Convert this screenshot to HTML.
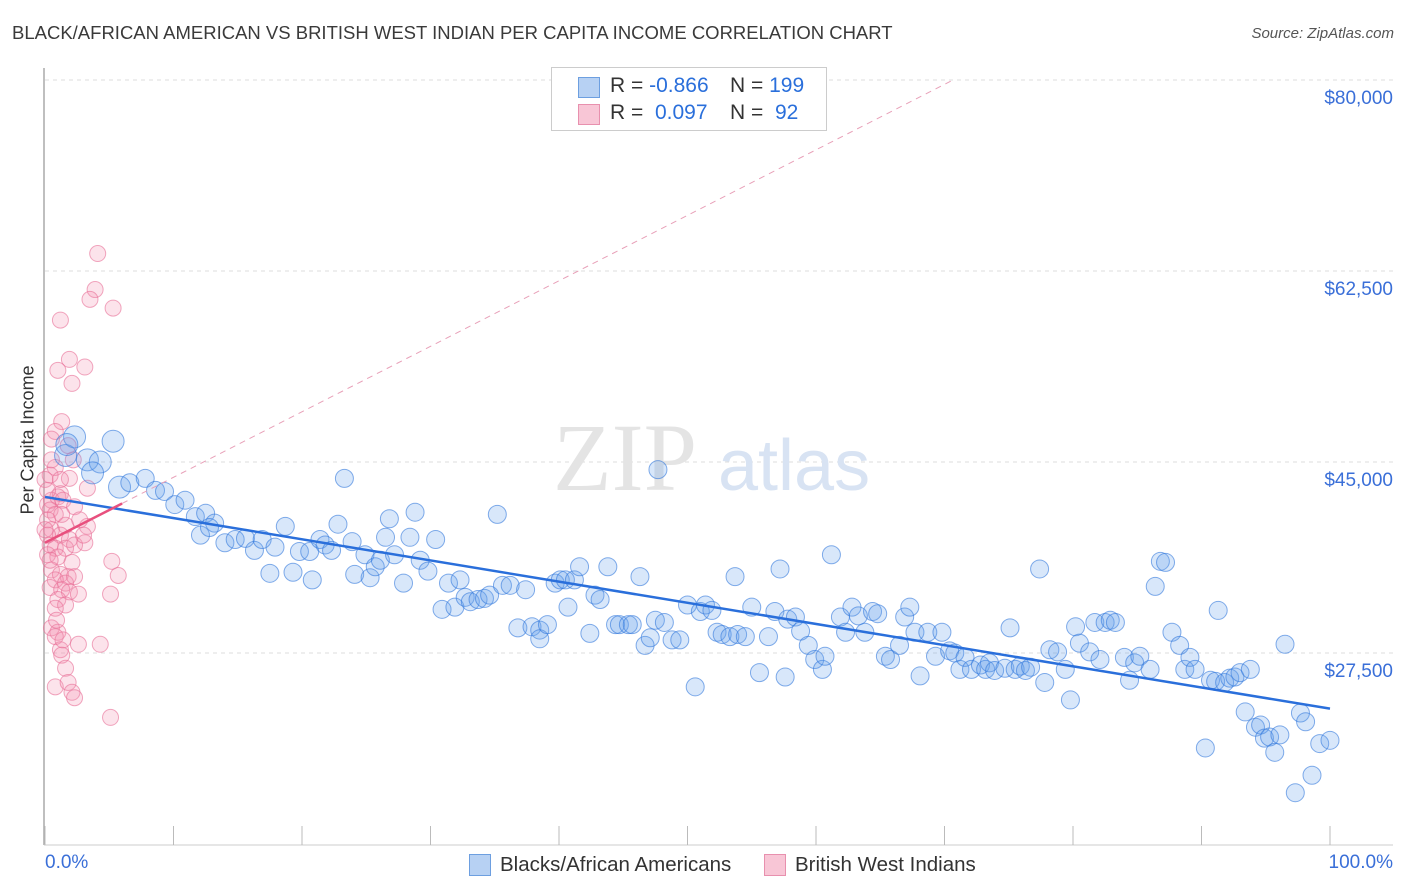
<!DOCTYPE html>
<html><head><meta charset="utf-8">
<style>
body{margin:0;background:#fff;font-family:"Liberation Sans",sans-serif;}
#wrap{position:relative;width:1406px;height:892px;overflow:hidden;}
.t{position:absolute;white-space:nowrap;}
</style></head>
<body>
<div id="wrap">
<div class="t" style="left:12px;top:22px;font-size:18.5px;color:#3a3a3a;">BLACK/AFRICAN AMERICAN VS BRITISH WEST INDIAN PER CAPITA INCOME CORRELATION CHART</div>
<div class="t" style="right:12px;top:25px;font-size:15px;color:#555;font-style:italic;">Source: ZipAtlas.com</div>
<svg id="svg" width="1406" height="892" style="position:absolute;left:0;top:0"></svg>
</div>
<script>
const yTicks=[80000,62500,45000,27500];
const yTickLabels=["$80,000","$62,500","$45,000","$27,500"];
const blueX=[1.6,2.3,3.3,4.3,5.3,1.7,3.7,5.8,6.6,7.8,8.6,9.3,10.1,10.9,11.7,12.5,13.2,12.1,12.8,14.0,14.8,15.6,16.3,16.9,17.5,17.9,18.7,19.3,19.8,20.6,20.8,21.4,21.8,22.3,22.8,23.3,23.9,24.1,24.9,25.3,25.7,26.1,26.5,26.8,27.2,27.9,28.4,28.8,29.2,29.8,30.4,30.9,31.4,31.9,32.3,32.7,33.1,33.7,34.2,34.6,35.2,35.6,36.2,36.8,37.4,37.9,38.5,38.5,39.1,39.7,40.1,40.5,40.7,41.2,41.6,42.4,42.8,43.2,43.8,44.4,44.7,45.4,45.7,46.3,46.7,47.1,47.5,47.7,48.2,48.8,49.4,50.0,50.6,51.0,51.4,51.9,52.3,52.7,53.3,53.7,53.9,54.5,55.0,55.6,56.3,56.8,57.2,57.6,57.8,58.4,58.8,59.4,59.9,60.5,60.7,61.2,61.9,62.3,62.8,63.3,63.8,64.4,64.8,65.4,65.8,66.5,66.9,67.3,67.7,68.1,68.7,69.3,69.8,70.4,70.8,71.2,71.6,72.1,72.8,73.2,73.5,73.9,74.7,75.1,75.5,75.9,76.3,76.7,77.4,77.8,78.2,78.8,79.4,79.8,80.2,80.5,81.3,81.7,82.1,82.5,82.9,83.3,84.0,84.4,84.8,85.2,86.0,86.4,86.8,87.2,87.7,88.3,88.7,89.1,89.5,90.3,90.7,91.1,91.3,91.8,92.2,92.6,93.0,93.4,93.8,94.2,94.6,94.9,95.3,95.7,96.1,96.5,97.3,97.7,98.1,98.6,99.2,100];
const blueY=[45.6,47.3,45.2,45.0,46.9,46.6,44.0,42.7,43.1,43.5,42.4,42.3,41.1,41.5,40.0,40.3,39.4,38.3,39.0,37.6,37.9,38.0,36.9,37.9,34.8,37.2,39.1,34.9,36.8,36.8,34.2,37.9,37.4,36.9,39.3,43.5,37.7,34.7,36.5,34.4,35.4,36.0,38.1,39.8,36.5,33.9,38.1,40.4,36.0,35.0,37.9,31.5,33.9,31.7,34.2,32.6,32.2,32.4,32.5,32.8,40.2,33.7,33.7,29.8,33.3,29.9,29.6,28.8,30.1,33.9,34.2,34.2,31.7,34.2,35.4,29.3,32.8,32.4,35.4,30.1,30.1,30.1,30.1,34.5,28.2,28.9,30.5,44.3,30.3,28.7,28.7,31.9,24.4,31.3,31.9,31.4,29.4,29.2,29.0,34.5,29.2,29.0,31.7,25.7,29.0,31.3,35.2,25.3,30.6,30.8,29.5,28.2,26.9,26.0,27.2,36.5,30.8,29.4,31.7,30.9,29.4,31.3,31.1,27.2,26.9,28.2,30.8,31.7,29.4,25.4,29.4,27.2,29.4,27.7,27.5,26.0,27.1,26.0,26.4,26.0,26.6,25.9,26.1,29.8,26.0,26.3,25.9,26.2,35.2,24.8,27.8,27.6,26.0,23.2,29.9,28.4,27.6,30.3,26.9,30.3,30.5,30.3,27.1,25.0,26.6,27.2,26.0,33.6,35.9,35.8,29.4,28.2,26.0,27.1,26.0,18.8,25.0,24.9,31.4,24.8,25.2,25.3,25.7,22.1,26.0,20.7,20.9,19.7,19.8,18.4,20.0,28.3,14.7,22.0,21.2,16.3,19.2,19.5];
const pinkX=[4.1,3.9,3.5,5.3,1.2,1.9,3.1,1.0,2.1,1.3,0.8,0.5,1.8,2.2,0.8,0.4,1.9,3.3,1.2,0.5,0.2,1.0,1.4,2.3,0.4,0.8,0.2,1.6,3.3,0.5,1.2,1.9,0.4,0.8,1.6,2.3,3.1,0.2,1.0,2.1,5.2,0.5,1.2,1.8,0.8,1.6,2.3,5.7,0.4,1.3,1.9,2.6,5.1,1.0,1.6,0.8,0.5,1.0,0.8,1.2,2.6,4.3,1.3,1.6,0.8,1.8,2.1,2.3,5.1,0,0.2,0.2,0.4,1.3,0,2.7,3.0,1.2,0.5,0.9,1.4];
const pinkY=[64.1,60.8,59.9,59.1,58.0,54.4,53.7,53.4,52.2,48.7,47.8,47.1,46.5,45.2,44.5,43.8,43.5,42.6,42.1,41.5,41.1,41.8,41.5,40.9,40.6,40.2,39.7,39.2,39.1,38.8,38.3,37.9,37.4,37.1,37.1,37.4,37.6,36.5,36.3,35.8,35.9,35.1,34.7,34.5,34.2,33.9,34.5,34.6,33.5,33.3,33.1,32.9,32.9,32.4,31.9,31.6,29.8,29.4,29.0,27.8,28.3,28.3,27.3,26.1,24.4,24.8,23.9,23.4,21.6,43.4,42.4,38.3,36.0,40.2,38.8,39.7,38.3,43.4,45.2,30.5,28.7];
const blueTrend=[41.8,22.4];
const pinkTrend=[37.6,0.6];

const NS="http://www.w3.org/2000/svg";
const svg=document.getElementById('svg');
const X0=45,X1=1330;
const xs=p=>X0+p/100*(X1-X0);
const ys=k=>80+(80-k)*191/17.5;
function el(tag,attrs,parent){const e=document.createElementNS(NS,tag);for(const k in attrs)e.setAttribute(k,attrs[k]);(parent||svg).appendChild(e);return e;}

yTicks.forEach((v,i)=>{
 const y=ys(v/1000);
 const g=el('line',{x1:45,x2:1393,y1:y,y2:y,stroke:'#ddd','stroke-dasharray':'4,4','stroke-width':1});
 
 
 const t=el('text',{x:1393,y:y+24,'text-anchor':'end','font-size':19,fill:'#3a6fd8','font-family':'Liberation Sans, sans-serif'});
 t.textContent=yTickLabels[i];
 
 
});
const ax=el('line',{x1:44,x2:44,y1:68,y2:845,stroke:'#aaa','stroke-width':1.5});


const bx=el('line',{x1:44,x2:1393,y1:845,y2:845,stroke:'#ccc','stroke-width':1});


for(let i=0;i<=10;i++){
 const tk=el('line',{x1:xs(i*10),x2:xs(i*10),y1:826,y2:845,stroke:'#bbb','stroke-width':1});
 
 
}
const wm=el('text',{x:553,y:490,'font-size':96,fill:'#e4e4e4','font-family':'Liberation Serif, serif'});
wm.textContent='ZIP';


const wm2=el('text',{x:718,y:490,'font-size':72,fill:'#d8e3f3','font-family':'Liberation Sans, sans-serif'});
wm2.textContent='atlas';



pinkX.forEach((x,i)=>{
 const c=el('circle',{cx:xs(x),cy:ys(pinkY[i]),r:8,fill:'rgba(244,143,177,0.25)',stroke:'rgba(232,110,150,0.6)','stroke-width':1});
 
 
});
blueX.forEach((x,i)=>{
 const c=el('circle',{cx:xs(x),cy:ys(blueY[i]),r:i<8?11:9,fill:'rgba(100,160,235,0.25)',stroke:'rgba(50,120,220,0.6)','stroke-width':1});
 
 
});
const bl=el('line',{x1:xs(0),y1:ys(blueTrend[0]),x2:xs(100),y2:ys(blueTrend[1]),stroke:'#2a6fdb','stroke-width':2.5});


const pEnd=(80-pinkTrend[0])/pinkTrend[1];
const pd=el('line',{x1:xs(6),y1:ys(pinkTrend[0]+6*pinkTrend[1]),x2:xs(pEnd),y2:ys(80),stroke:'#e8a0b8','stroke-width':1,'stroke-dasharray':'6,5'});


const pl=el('line',{x1:xs(0),y1:ys(pinkTrend[0]),x2:xs(6),y2:ys(pinkTrend[0]+6*pinkTrend[1]),stroke:'#e8507e','stroke-width':2.5});


</script>
<div class="t" style="left:-32px;top:444px;font-size:18px;color:#333;transform:rotate(-90deg);width:120px;text-align:center;">Per Capita Income</div>
<div class="t" style="left:45px;top:852px;font-size:19px;color:#3a6fd8;">0.0%</div>
<div class="t" style="right:13px;top:852px;font-size:19px;color:#3a6fd8;">100.0%</div>
<div style="position:absolute;left:551px;top:67px;width:274px;height:62px;border:1px solid #ccc;background:#fff;font-size:21px;color:#333;">
 <div style="position:absolute;left:26px;top:6px;">
  <span style="position:absolute;left:0;top:3px;width:20px;height:19px;background:#b7d1f3;border:1px solid #6d9fe0;"></span>
  <span class="t" style="left:32px;top:0;">R = <span style="color:#2a6fdb">-0.866</span></span>
  <span class="t" style="left:152px;top:0;">N = <span style="color:#2a6fdb">199</span></span>
 </div>
 <div style="position:absolute;left:26px;top:33px;">
  <span style="position:absolute;left:0;top:3px;width:20px;height:19px;background:#f8c6d6;border:1px solid #e890ae;"></span>
  <span class="t" style="left:32px;top:0;">R = <span style="color:#2a6fdb">&nbsp;0.097</span></span>
  <span class="t" style="left:152px;top:0;">N = <span style="color:#2a6fdb">&nbsp;92</span></span>
 </div>
</div>
<div style="position:absolute;left:0;top:853px;font-size:20.5px;color:#333;">
 <span style="position:absolute;left:469px;top:1px;width:20px;height:20px;background:#b7d1f3;border:1px solid #6d9fe0;"></span>
 <span class="t" style="left:500px;top:0;">Blacks/African Americans</span>
 <span style="position:absolute;left:764px;top:1px;width:20px;height:20px;background:#f8c6d6;border:1px solid #e890ae;"></span>
 <span class="t" style="left:795px;top:0;">British West Indians</span>
</div>
</body></html>
